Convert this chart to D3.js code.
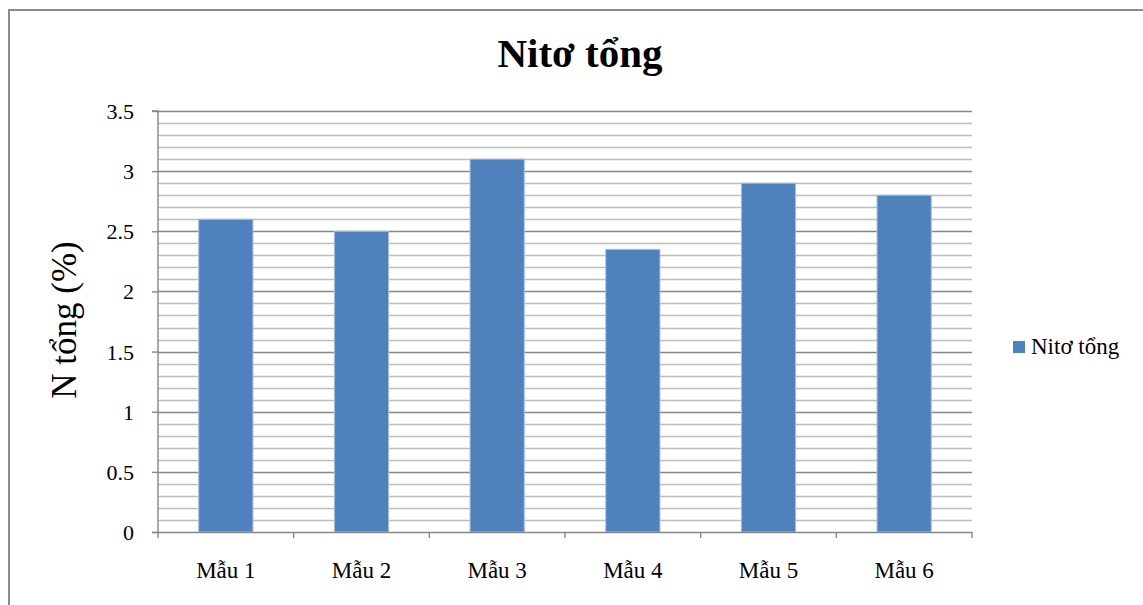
<!DOCTYPE html>
<html>
<head>
<meta charset="utf-8">
<script src="https://cdn.jsdelivr.net/npm/d3@7"></script>
<style>
  html, body { margin: 0; padding: 0; background: #fff; }
  svg { display: block; }
  svg text { font-family: "Liberation Serif", "Times New Roman", serif; fill: #000; }
</style>
</head>
<body>
<svg id="chart" width="1143" height="605"></svg>
<script>
// Total nitrogen per sample
const categories = ["Mẫu 1", "Mẫu 2", "Mẫu 3", "Mẫu 4", "Mẫu 5", "Mẫu 6"];
const nitoTong = [2.6, 2.5, 3.1, 2.35, 2.9, 2.8];
const yTicks = [0, 0.5, 1, 1.5, 2, 2.5, 3, 3.5];
const seriesName = "Nitơ tổng";
const titleText = "Nitơ tổng";
const yLabel = "N tổng (%)";

const svg = d3.select("#chart");
const W = 1143, H = 605;
const plot = { left: 158, right: 972, top: 111, bottom: 532 };

// Outer frame
svg.append("rect")
  .attr("x", 9).attr("y", 10)
  .attr("width", W + 10).attr("height", H + 10)
  .attr("fill", "#fff")
  .attr("stroke", "#8c8c8c")
  .attr("stroke-width", 2);

const y = d3.scaleLinear().domain([0, 3.5]).range([plot.bottom, plot.top]);
const x = d3.scaleBand().domain(categories).range([plot.left, plot.right]).padding(0);

// Minor gridlines every 0.1
const minor = d3.range(0, 36).map(i => i / 10).filter(v => Math.round(v * 10) % 5 !== 0);
svg.append("g").selectAll("line").data(minor).join("line")
  .attr("x1", plot.left).attr("x2", plot.right)
  .attr("y1", d => Math.round(y(d)) + 0.5).attr("y2", d => Math.round(y(d)) + 0.5)
  .attr("stroke", "#bdbdbd").attr("stroke-width", 1.4);

// Major gridlines
svg.append("g").selectAll("line").data(yTicks.slice(1)).join("line")
  .attr("x1", plot.left).attr("x2", plot.right)
  .attr("y1", d => Math.round(y(d)) + 0.5).attr("y2", d => Math.round(y(d)) + 0.5)
  .attr("stroke", "#868686").attr("stroke-width", 1.4);

// Bars (gap width 150%)
const barW = x.bandwidth() / 2.5;
svg.append("g").selectAll("rect").data(nitoTong).join("rect")
  .attr("x", (d, i) => x(categories[i]) + (x.bandwidth() - barW) / 2)
  .attr("y", d => y(d))
  .attr("width", barW)
  .attr("height", d => y(0) - y(d))
  .attr("fill", "#4f81bd")
  .attr("stroke", "#a9c1df")
  .attr("stroke-width", 1);

// Y axis
const yAxis = svg.append("g")
  .attr("transform", `translate(${plot.left},0)`)
  .call(d3.axisLeft(y).tickValues(yTicks).tickFormat(d3.format("")).tickSize(6).tickPadding(18));
yAxis.attr("font-family", null).attr("font-size", null);
yAxis.select(".domain").attr("stroke", "#868686").attr("stroke-width", 1.4).attr("d", `M-6,${plot.top}H0V${plot.bottom}`);
yAxis.selectAll(".tick line").attr("stroke", "#868686").attr("stroke-width", 1.4);
yAxis.selectAll(".tick text")
  .attr("font-size", 22).attr("dy", "0.34em");

// X axis line and category boundary ticks
svg.append("line")
  .attr("x1", plot.left - 6).attr("x2", plot.right)
  .attr("y1", plot.bottom + 0.5).attr("y2", plot.bottom + 0.5)
  .attr("stroke", "#868686").attr("stroke-width", 1.4);
const bounds = categories.map(c => x(c)).concat([plot.right]);
svg.append("g").selectAll("line").data(bounds).join("line")
  .attr("x1", d => d).attr("x2", d => d)
  .attr("y1", plot.bottom).attr("y2", plot.bottom + 6)
  .attr("stroke", "#868686").attr("stroke-width", 1.4);

// Category labels
const xAxis = svg.append("g")
  .attr("transform", `translate(0,${plot.bottom})`)
  .call(d3.axisBottom(x).tickSize(0).tickPadding(0));
xAxis.attr("font-family", null).attr("font-size", null);
xAxis.select(".domain").remove();
xAxis.selectAll(".tick text")
  .attr("font-size", 23)
  .attr("dy", null).attr("y", 46);

// Title
svg.append("text")
  .attr("x", 580).attr("y", 67)
  .attr("text-anchor", "middle")
  .attr("font-size", 41).attr("font-weight", "bold")
  .text(titleText);

// Y axis title
svg.append("text")
  .attr("transform", "translate(76,320) rotate(-90)")
  .attr("text-anchor", "middle")
  .attr("font-size", 35)
  .text(yLabel);

// Legend
const lg = svg.append("g").attr("transform", "translate(1013,341)");
lg.append("rect").attr("width", 12).attr("height", 12).attr("fill", "#4f81bd");
lg.append("text").attr("x", 18).attr("y", 13).attr("font-size", 23).text(seriesName);
</script>
</body>
</html>
